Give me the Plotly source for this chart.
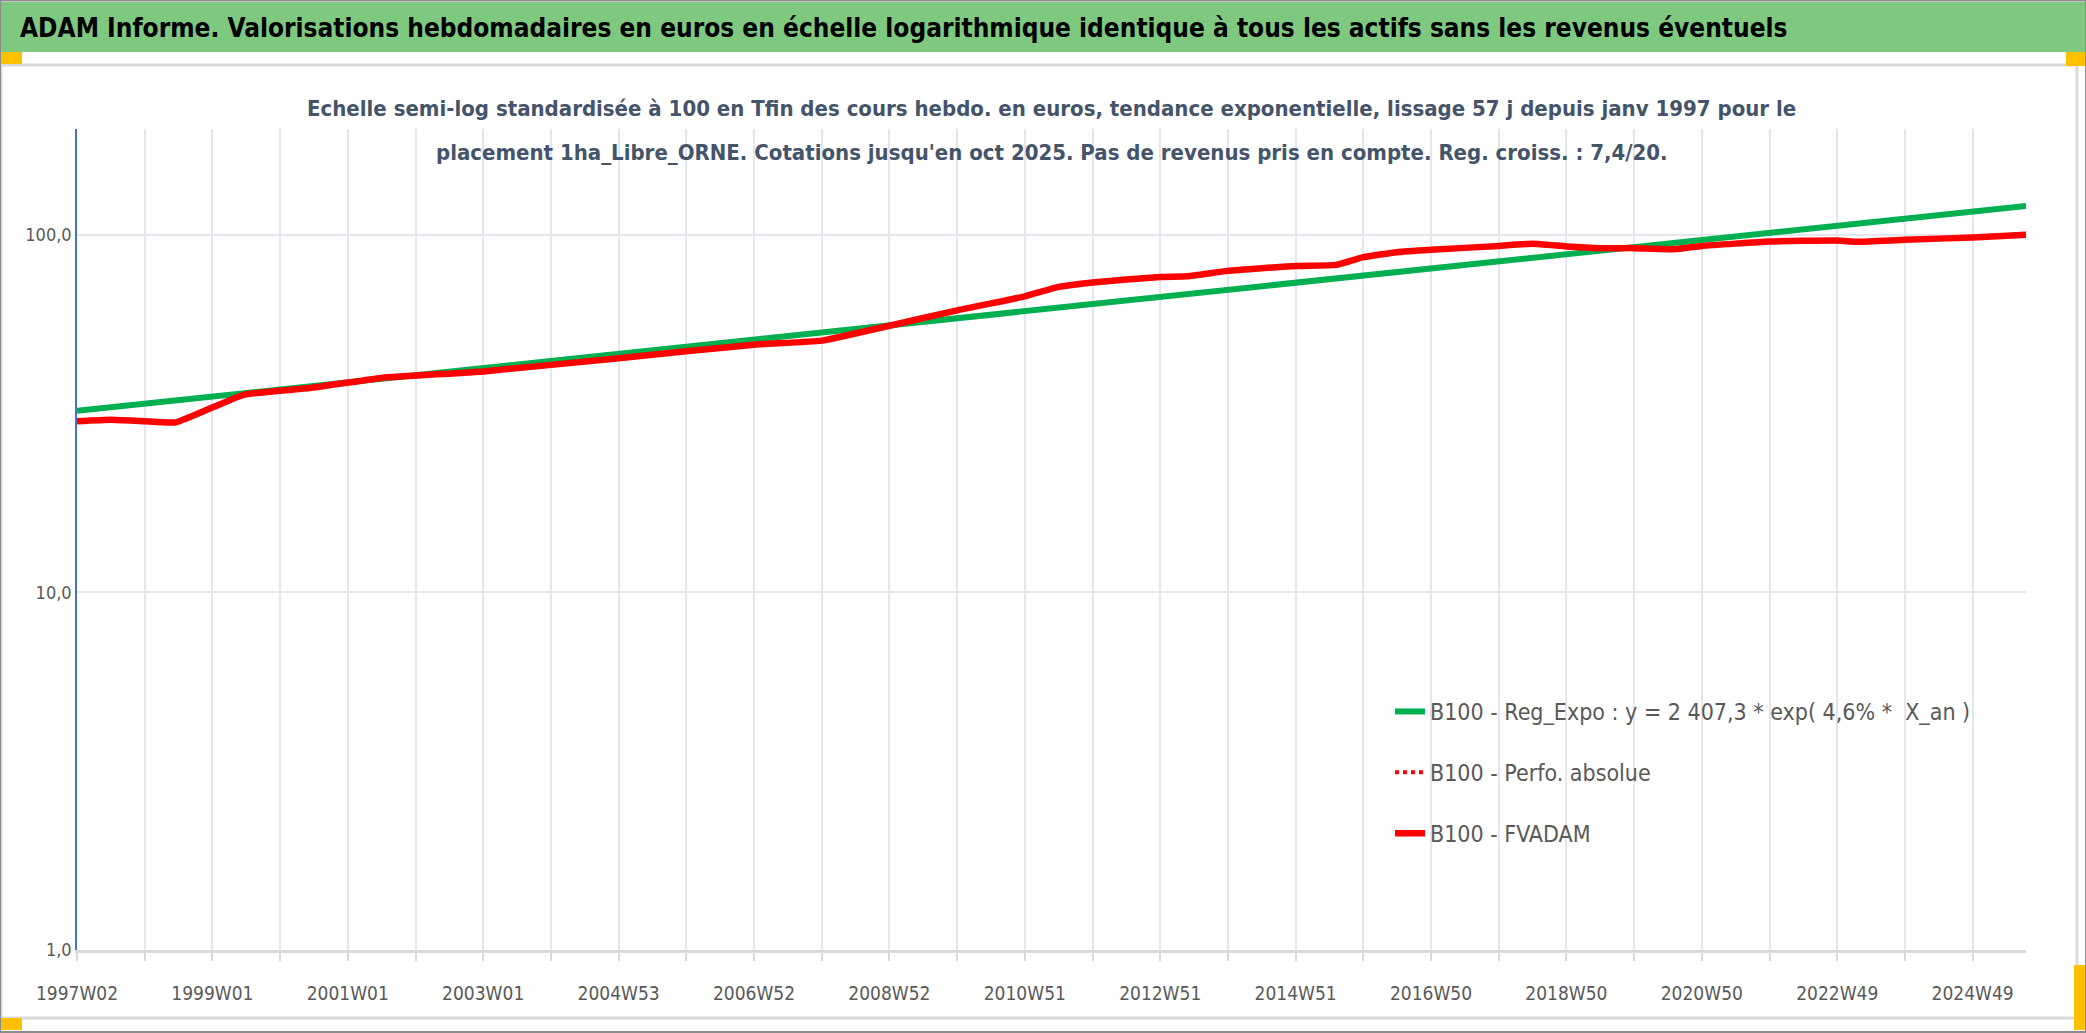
import plotly.graph_objects as go

# x = rang de la semaine depuis 1997W02 (axe de categories hebdo)
TICK_LABELS = ["1997W02", "1999W01", "2001W01", "2003W01", "2004W53", "2006W52",
               "2008W52", "2010W51", "2012W51", "2014W51", "2016W50", "2018W50",
               "2020W50", "2022W49", "2024W49"]
N_WEEKS = 1498

FV_WEEK = [0, 26, 52, 76, 128, 179, 234, 312, 416, 520, 572, 624, 676, 728, 754,
           780, 832, 853, 884, 936, 967, 988, 1014, 1040, 1092, 1118, 1144, 1170,
           1196, 1227, 1248, 1300, 1352, 1368, 1404, 1456, 1497]
FV_B100 = [30.1, 30.4, 30.1, 29.9, 35.7, 37.3, 39.8, 41.5, 45.2, 49.3, 50.6, 55.7,
           61.5, 67.3, 71.5, 73.6, 76.2, 76.6, 79.3, 81.8, 82.4, 86.6, 89.4, 90.8,
           93.1, 94.4, 92.8, 91.8, 91.8, 91.2, 93.1, 95.8, 96.4, 95.6, 96.9, 98.3,
           100.0]

REG_WEEK = [0, 260, 520, 780, 1040, 1300, 1497]
REG_B100 = [32.2, 40.5, 51.0, 64.2, 80.8, 101.7, 120.5]

Y_TICKS = [1, 10, 100]
Y_TICK_LABELS = ["1,0", "10,0", "100,0"]

TITLE = ("ADAM Informe. Valorisations hebdomadaires en euros en échelle logarithmique "
         "identique à tous les actifs sans les revenus éventuels")
SUB1 = ("Echelle semi-log standardisée à 100 en Tfin des cours hebdo. en euros, tendance "
        "exponentielle, lissage 57 j depuis janv 1997 pour le")
SUB2 = ("placement 1ha_Libre_ORNE. Cotations jusqu'en oct 2025. Pas de revenus pris en "
        "compte. Reg. croiss. : 7,4/20.")

W, H = 2086, 1033
L, R, T, B = 77, 60, 129, 83
FONT = "'Liberation Sans Narrow', 'DejaVu Sans Condensed', 'Arial Narrow', sans-serif"


def px(x):
    return (x - L) / (W - L - R)


def py(y):
    return (H - B - y) / (H - T - B)


fig = go.Figure()
fig.add_trace(go.Scatter(x=REG_WEEK, y=REG_B100, mode="lines", legendgroup="a",
                         name="B100 - Reg_Expo : y = 2 407,3 * exp( 4,6% *  X_an )",
                         line=dict(color="#00B050", width=6)))
fig.add_trace(go.Scatter(x=FV_WEEK, y=FV_B100, mode="lines", legendgroup="b",
                         name="B100 - Perfo. absolue",
                         line=dict(color="#FF0000", width=4, dash="dot")))
fig.add_trace(go.Scatter(x=FV_WEEK, y=FV_B100, mode="lines", legendgroup="c",
                         name="B100 - FVADAM",
                         line=dict(color="#FF0000", width=6.5, shape="spline", smoothing=0.4)))

tickvals = list(range(0, N_WEEKS, 52))
ticktext = [TICK_LABELS[i // 2] if i % 2 == 0 else "" for i in range(len(tickvals))]

fig.update_xaxes(range=[0, N_WEEKS - 1], tickvals=tickvals, ticktext=ticktext,
                 showgrid=True, gridcolor="#E3E7ED", gridwidth=1.5,
                 showline=True, linecolor="#D9D9D9", linewidth=3,
                 ticks="outside", ticklen=8, tickcolor="#D9D9D9", tickwidth=1.5,
                 ticklabelstandoff=16, zeroline=False,
                 tickfont=dict(family=FONT, size=19, color="#595959"))
fig.update_yaxes(type="log", range=[0, 2.296], tickvals=Y_TICKS, ticktext=Y_TICK_LABELS,
                 showgrid=True, gridcolor="#E3E7ED", gridwidth=2,
                 showline=True, linecolor="#4472C4", linewidth=1.5, zeroline=False,
                 tickfont=dict(family=FONT, size=18, color="#595959"))

shapes = [
    dict(type="rect", x0=px(0), x1=px(W), y0=py(2), y1=py(52),
         fillcolor="#7EC87F", line_width=0, layer="below"),
    dict(type="rect", x0=px(1), x1=px(2077), y0=py(65), y1=py(1018),
         fillcolor="rgba(0,0,0,0)", line=dict(color="#D9D9D9", width=3)),
    dict(type="rect", x0=px(0), x1=px(22), y0=py(52), y1=py(64),
         fillcolor="#FFC000", line_width=0),
    dict(type="rect", x0=px(0), x1=px(22), y0=py(1018), y1=py(1030),
         fillcolor="#FFC000", line_width=0),
    dict(type="rect", x0=px(2066), x1=px(2086), y0=py(52), y1=py(66),
         fillcolor="#FFC000", line_width=0),
    dict(type="rect", x0=px(2074), x1=px(2086), y0=py(965), y1=py(1030),
         fillcolor="#FFC000", line_width=0),
    dict(type="rect", x0=px(0), x1=px(W), y0=py(0.5), y1=py(H - 1),
         fillcolor="rgba(0,0,0,0)", line=dict(color="#8C8C8C", width=2)),
]
for s in shapes:
    s["xref"] = "paper"
    s["yref"] = "paper"

annotations = [
    dict(text="<b>" + TITLE + "</b>", x=px(18), y=py(28), xanchor="left", yanchor="middle",
         font=dict(family=FONT, size=26, color="#000000")),
    dict(text="<b>" + SUB1 + "</b>", x=0.5, y=py(108), xanchor="center", yanchor="middle",
         font=dict(family=FONT, size=22, color="#44546A")),
    dict(text="<b>" + SUB2 + "</b>", x=0.5, y=py(152), xanchor="center", yanchor="middle",
         font=dict(family=FONT, size=22, color="#44546A")),
]
for a in annotations:
    a["xref"] = "paper"
    a["yref"] = "paper"
    a["showarrow"] = False

fig.update_layout(
    width=W, height=H,
    margin=dict(l=L, r=R, t=T, b=B),
    paper_bgcolor="white", plot_bgcolor="white",
    shapes=shapes, annotations=annotations,
    legend=dict(x=px(1390), y=py(690), xanchor="left", yanchor="top",
                bgcolor="rgba(0,0,0,0)", tracegroupgap=28,
                font=dict(family=FONT, size=23, color="#595959")),
)

fig.write_html("out.html", config={"displayModeBar": False},
               post_script="document.body.style.margin='0';")
